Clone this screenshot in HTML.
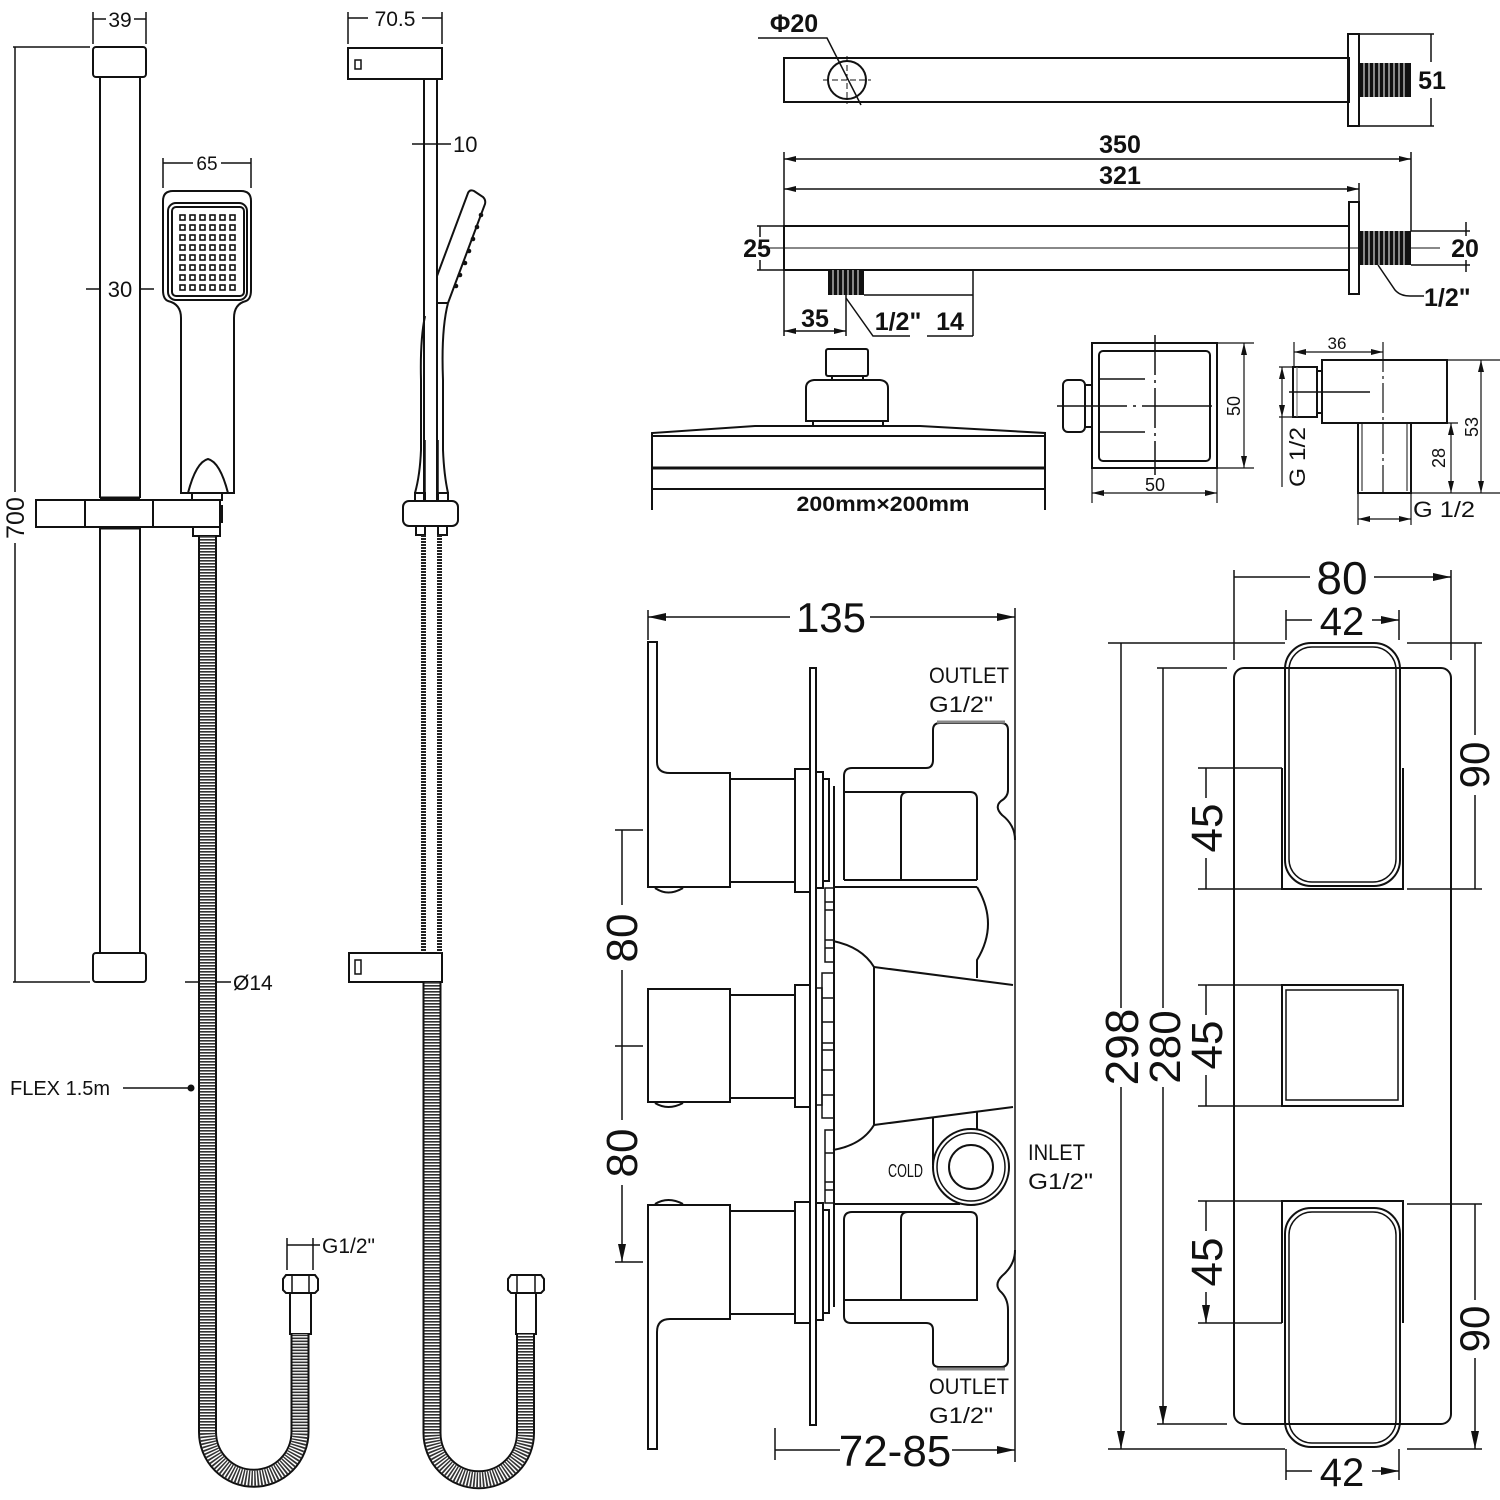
<!DOCTYPE html>
<html><head><meta charset="utf-8"><style>html,body{margin:0;padding:0;background:#fff}svg{display:block}</style></head><body>
<svg width="1500" height="1500" viewBox="0 0 1500 1500" xmlns="http://www.w3.org/2000/svg" font-family="'Liberation Sans', Arial, sans-serif">
<defs>
<marker id="ar" viewBox="0 0 18 8" refX="18" refY="4" markerWidth="18" markerHeight="8" orient="auto-start-reverse" markerUnits="userSpaceOnUse"><path d="M0,0L18,4L0,8z" fill="#111"/></marker>
<marker id="sm" viewBox="0 0 12 6" refX="12" refY="3" markerWidth="12" markerHeight="6" orient="auto-start-reverse" markerUnits="userSpaceOnUse"><path d="M0,0L12,3L0,6z" fill="#111"/></marker>
<marker id="tk" viewBox="0 0 2 10" refX="1" refY="5" markerWidth="2" markerHeight="10" orient="auto" markerUnits="userSpaceOnUse"><path d="M1,0V10" stroke="#111" stroke-width="1.5"/></marker>
</defs>
<rect width="1500" height="1500" fill="#fff"/>

<!-- ================= LEFT FRONT VIEW ================= -->
<g fill="none" stroke="#111" stroke-width="2">
  <path d="M93,12V44M146,12V44" stroke-width="1.5"/>
  <path d="M93,19H106M134,19H146" stroke-width="1.5"/>
  <rect x="93" y="47" width="53" height="30" rx="3"/>
  <path d="M100,77V498M140,77V498M100,528V953M140,528V953"/>
  <path d="M13,47H90M15,47V492M15,543V982M13,982H90" stroke-width="1.5"/>
  <path d="M86,289H99M140,289H154" stroke-width="1.5"/>
  <rect x="93" y="953" width="53" height="29" rx="3"/>
  <rect x="36" y="500" width="184" height="27"/>
  <path d="M85,500V527M153,500V527"/>
  <path d="M100,498H140M100,528H140" stroke-width="3"/>
  <!-- handset -->
  <path d="M181,493V318Q181,304 168,301Q163,299 163,290V201Q163,191 173,191H241Q251,191 251,201V290Q251,299 246,301Q234,304 234,318V493Z"/>
  <rect x="168" y="203" width="79" height="97" rx="8"/>
  <rect x="172" y="207" width="72" height="89" rx="4"/>
  <path d="M188,493Q196,462 208,459Q220,462 228,493"/>
  <rect x="192" y="493" width="30" height="7"/>
  <rect x="193" y="527" width="27" height="9"/>
  <!-- fitting + nut left hose -->
  <rect x="290" y="1293" width="21" height="41"/>
  <path d="M286,1275H315L318,1279V1290L315,1293H286L283,1290V1279Z"/>
  <path d="M292,1275V1293M309,1275V1293" stroke-width="1.5"/>
  <path d="M287,1238V1270M313,1238V1270" stroke-width="1.5"/>
  <path d="M287,1245H320" stroke-width="1.5"/>
  <path d="M185,982H198M217,982H231" stroke-width="1.5"/>
  <path d="M123,1088H190" stroke-width="1.5"/>
</g>
<rect x="219" y="505" width="4" height="18" fill="#111"/>
<g fill="none" stroke="#111" stroke-width="1.6">
  <g id="grid">
  <rect x="180" y="215" width="5" height="5"/><rect x="190" y="215" width="5" height="5"/><rect x="200" y="215" width="5" height="5"/><rect x="210" y="215" width="5" height="5"/><rect x="220" y="215" width="5" height="5"/><rect x="230" y="215" width="5" height="5"/>
  </g>
  <use href="#grid" y="10"/><use href="#grid" y="20"/><use href="#grid" y="30"/><use href="#grid" y="40"/><use href="#grid" y="50"/><use href="#grid" y="60"/><use href="#grid" y="70"/>
</g>
<circle cx="191" cy="1088" r="3.5" fill="#111"/>
<!-- left hose -->
<path d="M207.5,536V1432A46.25,46.25 0 0 0 300,1432V1334" fill="none" stroke="#111" stroke-width="19"/>
<path d="M207.5,536V1432A46.25,46.25 0 0 0 300,1432V1334" fill="none" stroke="#fff" stroke-width="15"/>
<path d="M207.5,536V1432A46.25,46.25 0 0 0 300,1432V1334" fill="none" stroke="#333" stroke-width="15" stroke-dasharray="1.6 1.4"/>

<g fill="#111" font-size="21" text-anchor="middle">
  <text x="120" y="27">39</text>
  <text x="120" y="297" font-size="22">30</text>
  <text transform="translate(24,518) rotate(-90)" font-size="25">700</text>
  <text x="207" y="170" font-size="19">65</text>
  <text x="395" y="26">70.5</text>
  <text x="453" y="152" text-anchor="start" font-size="22">10</text>
  <text x="233" y="990" text-anchor="start">Ø14</text>
  <text x="10" y="1095" text-anchor="start" font-size="20">FLEX 1.5m</text>
  <text x="322" y="1253" text-anchor="start">G1/2"</text>
</g>
<g fill="none" stroke="#111" stroke-width="1.5">
  <path d="M163,158V188M251,158V188M163,163H193M221,163H251"/>
</g>

<!-- ================= RIGHT SIDE VIEW (rail) ================= -->
<g fill="none" stroke="#111" stroke-width="2">
  <path d="M348,12V44M442,12V44" stroke-width="1.5"/>
  <path d="M348,18H368M422,18H442" stroke-width="1.5"/>
  <rect x="348" y="48" width="94" height="31"/>
  <rect x="355" y="60" width="6" height="9" stroke-width="1.5"/>
  <path d="M424,79V501M437,79V501"/>
  <path d="M412,144H451" stroke-width="1.5"/>
  <path d="M437,276L468,193Q470,189 474,191L483,197Q486,200 485,204L448,303"/>
  <path d="M437,303H448"/>
  <path d="M448,303Q441,330 443,380V450Q444,475 448,493"/>
  <path d="M425,316Q420,340 421,380V450Q420,475 415,493"/>
  <path d="M425,440V493M438,440V493" stroke-width="1.5"/>
  <rect x="415" y="493" width="10" height="8"/>
  <rect x="438" y="493" width="10" height="8"/>
  <rect x="403" y="501" width="55" height="25" rx="6"/>
  <rect x="416" y="526" width="9" height="9"/>
  <rect x="438" y="526" width="9" height="9"/>
  <rect x="349" y="953" width="93" height="29"/>
  <rect x="355" y="960" width="6" height="14" stroke-width="1.5"/>
  <rect x="516" y="1293" width="20" height="41"/>
  <path d="M511,1275H541L544,1279V1290L541,1293H511L508,1290V1279Z"/>
  <path d="M517,1275V1293M535,1275V1293" stroke-width="1.5"/>
</g>
<g fill="#111">
  <circle cx="481" cy="215" r="2.3"/><circle cx="477" cy="227" r="2.3"/><circle cx="473" cy="239" r="2.3"/><circle cx="469" cy="251" r="2.3"/><circle cx="465" cy="263" r="2.3"/><circle cx="460" cy="275" r="2.3"/><circle cx="456" cy="286" r="2.3"/>
</g>
<path d="M423.5,535V953M439.5,535V953" stroke="#222" stroke-width="5" stroke-dasharray="2 1" fill="none"/>
<path d="M432,982V1433A46.75,46.75 0 0 0 525.5,1433V1334" fill="none" stroke="#111" stroke-width="19"/>
<path d="M432,982V1433A46.75,46.75 0 0 0 525.5,1433V1334" fill="none" stroke="#fff" stroke-width="15"/>
<path d="M432,982V1433A46.75,46.75 0 0 0 525.5,1433V1334" fill="none" stroke="#333" stroke-width="15" stroke-dasharray="1.6 1.4"/>

<!-- ================= TOP RIGHT ARM ================= -->
<g fill="none" stroke="#111" stroke-width="2">
  <rect x="784" y="58" width="565" height="44"/>
  <circle cx="847" cy="80" r="19"/>
  <path d="M823,80H871M847,56V104" stroke-width="1" stroke-dasharray="6 3"/>
  <path d="M758,38H827L861,105" stroke-width="1.5"/>
  <rect x="1348" y="34" width="11" height="92"/>
  <path d="M1359,34H1434M1359,126H1434" stroke-width="1.5"/>
  <path d="M1431,62V34M1431,98V126" stroke-width="1.5"/>
  <path d="M784,159H1411" stroke-width="1.5" marker-start="url(#sm)" marker-end="url(#sm)"/>
  <path d="M784,189H1359" stroke-width="1.5" marker-start="url(#sm)" marker-end="url(#sm)"/>
  <path d="M784,152V226M784,270V336M1411,152V231M1359,183V202" stroke-width="1.5"/>
  <rect x="784" y="226" width="565" height="44"/>
  <path d="M758,248H1440" stroke-width="1"/>
  <rect x="1349" y="202" width="10" height="92"/>
  <path d="M757,226H784M757,270H784M760,226V237M760,260V270" stroke-width="1.5"/>
  <path d="M1411,231H1470M1411,265H1470M1466,222V236M1466,260V272" stroke-width="1.5"/>
  <path d="M1378,265L1395,290Q1400,296 1410,296H1424" stroke-width="1.5"/>
  <path d="M864,295H973M973,270V336" stroke-width="1.5"/>
  <path d="M784,331H846" stroke-width="1.5" marker-start="url(#sm)" marker-end="url(#sm)"/>
  <path d="M846,295V336" stroke-width="1.5"/>
  <path d="M846,298L873,336H910M927,336H973" stroke-width="1.5"/>
</g>
<rect x="1359" y="63" width="52" height="34" fill="#111"/>
<rect x="1359" y="231" width="52" height="34" fill="#111"/>
<rect x="828" y="270" width="36" height="25" fill="#111"/>
<g stroke="#fff" stroke-width="1">
  <path d="M1364,63V97M1369,63V97M1374,63V97M1379,63V97M1384,63V97M1389,63V97M1394,63V97M1399,63V97M1404,63V97"/>
  <path d="M1364,231V265M1369,231V265M1374,231V265M1379,231V265M1384,231V265M1389,231V265M1394,231V265M1399,231V265M1404,231V265"/>
  <path d="M833,270V295M838,270V295M843,270V295M848,270V295M853,270V295M858,270V295"/>
</g>
<g fill="#111" font-size="25" font-weight="bold" text-anchor="middle">
  <text x="794" y="32">Φ20</text>
  <text x="1432" y="89">51</text>
  <text x="1120" y="153">350</text>
  <text x="1120" y="184">321</text>
  <text x="757" y="257">25</text>
  <text x="1465" y="257">20</text>
  <text x="1424" y="306" text-anchor="start">1/2"</text>
  <text x="815" y="327">35</text>
  <text x="898" y="330">1/2"</text>
  <text x="950" y="330">14</text>
</g>

<!-- ================= SHOWER HEAD ================= -->
<g fill="none" stroke="#111" stroke-width="2">
  <rect x="826" y="349" width="42" height="27" rx="2"/>
  <path d="M832,376V380M863,376V380"/>
  <path d="M806,421V388Q806,381 814,380H880Q888,381 888,388V421Z"/>
  <path d="M813,421V425M883,421V425"/>
  <path d="M652,510V433L755,426H920L1045,433V510"/>
  <path d="M652,436H1045M652,489H1045"/>
  <path d="M652,468H1045" stroke-width="3"/>
</g>
<text x="883" y="511" font-size="21" font-weight="bold" text-anchor="middle" textLength="173" lengthAdjust="spacingAndGlyphs" fill="#111">200mm×200mm</text>

<!-- ================= ELBOW FRONT ================= -->
<g fill="none" stroke="#111" stroke-width="2">
  <rect x="1092" y="343" width="125" height="125"/>
  <rect x="1099" y="351" width="111" height="110" rx="4"/>
  <path d="M1155,335V475" stroke-width="1.5" stroke-dasharray="40 5 3 5"/>
  <path d="M1057,406H1217" stroke-width="1.5" stroke-dasharray="70 6 3 6"/>
  <path d="M1099,379H1145M1099,432H1145" stroke-width="1.5"/>
  <rect x="1063" y="380" width="22" height="52" rx="5"/>
  <rect x="1085" y="385" width="7" height="42"/>
  <path d="M1217,343H1254M1217,468H1254M1092,468V503M1217,468V503" stroke-width="1.2"/>
  <path d="M1244,343V468" stroke-width="1.2" marker-start="url(#sm)" marker-end="url(#sm)"/>
  <path d="M1092,493H1217" stroke-width="1.2" marker-start="url(#sm)" marker-end="url(#sm)"/>
</g>
<!-- ================= ELBOW SIDE ================= -->
<g fill="none" stroke="#111" stroke-width="2">
  <rect x="1322" y="360" width="125" height="63"/>
  <rect x="1293" y="367" width="24" height="50"/>
  <rect x="1317" y="371" width="5" height="42"/>
  <path d="M1297,367V417" stroke-width="1" stroke="#666"/>
  <path d="M1289,392H1370" stroke-width="1.5"/>
  <rect x="1358" y="423" width="53" height="70"/>
  <path d="M1362,423V491M1407,423V491" stroke-width="1"/>
  <path d="M1383,342V493" stroke-width="1.2" stroke-dasharray="30 4 3 4"/>
  <path d="M1294,342V367" stroke-width="1.2"/>
  <path d="M1294,352H1383" stroke-width="1.2" marker-start="url(#sm)" marker-end="url(#sm)"/>
  <path d="M1279,367H1293M1279,417H1293" stroke-width="1.2"/>
  <path d="M1282,367V417" stroke-width="1.2" marker-start="url(#sm)" marker-end="url(#sm)"/>
  <path d="M1282,417V487" stroke-width="1.2"/>
  <path d="M1447,360H1500M1411,493H1500M1411,423H1458" stroke-width="1.2"/>
  <path d="M1481,360V493" stroke-width="1.2" marker-start="url(#sm)" marker-end="url(#sm)"/>
  <path d="M1451,423V493" stroke-width="1.2" marker-start="url(#sm)" marker-end="url(#sm)"/>
  <path d="M1358,493V525M1411,493V525" stroke-width="1.2"/>
  <path d="M1358,519H1411" stroke-width="1.2" marker-start="url(#sm)" marker-end="url(#sm)"/>
</g>
<g fill="#111" font-size="18" text-anchor="middle">
  <text transform="translate(1240,406) rotate(-90)">50</text>
  <text x="1155" y="491">50</text>
  <text x="1337" y="349" font-size="17">36</text>
  <text transform="translate(1305,457) rotate(-90)" font-size="22" textLength="60" lengthAdjust="spacingAndGlyphs">G 1/2</text>
  <text transform="translate(1478,427) rotate(-90)">53</text>
  <text transform="translate(1445,458) rotate(-90)">28</text>
  <text x="1413" y="517" text-anchor="start" font-size="22" textLength="62" lengthAdjust="spacingAndGlyphs">G 1/2</text>
</g>

<!-- ================= VALVE SIDE VIEW ================= -->
<g fill="none" stroke="#111" stroke-width="2">
  <path d="M790,617H648" stroke-width="1.5" marker-end="url(#ar)"/>
  <path d="M870,617H1015" stroke-width="1.5" marker-end="url(#ar)"/>
  <path d="M648,610V640M1015,608V1462" stroke-width="1.5"/>
  <!-- handle 1 -->
  <path d="M648,642H657V762Q657,773 670,773H730V887H648Z"/>
  <path d="M655,888Q668,897 683,888"/>
  <rect x="730" y="779" width="65" height="103"/>
  <rect x="795" y="769" width="15" height="123"/>
  <rect x="810" y="668" width="6" height="757"/>
  <rect x="816" y="772" width="7" height="116"/>
  <rect x="823" y="779" width="6" height="102"/>
  <path d="M834,786V1307"/>
  <!-- upper housing / outlet -->
  <path d="M844,880V776Q844,768 852,768H926Q933,768 933,760V730Q933,723 940,723H1001Q1008,723 1008,730V790Q1008,797 1001,801Q994,807 1002,815Q1015,825 1015,840"/>
  <path d="M844,792H970Q977,792 977,799V880"/>
  <path d="M901,880V799Q901,792 908,792"/>
  <path d="M844,880H977"/>
  <path d="M834,887H977"/>
  <path d="M977,887Q999,924 977,960V978"/>
  <path d="M833,941Q862,947 874,967V1125Q862,1145 833,1150"/>
  <path d="M874,967L1013,985M874,1125L1013,1107"/>
  <path d="M933,1118V1165M977,1112V1130"/>
  <circle cx="971" cy="1167" r="38"/>
  <circle cx="971" cy="1167" r="34" stroke-width="1.5"/>
  <circle cx="971" cy="1167" r="22"/>
  <path d="M834,1204H960"/>
  <!-- lower housing / outlet -->
  <path d="M844,1300V1220Q844,1212 852,1212H970Q977,1212 977,1219V1300H844"/>
  <path d="M901,1300V1219Q901,1212 908,1212"/>
  <path d="M844,1300V1316Q844,1323 851,1323H926Q933,1323 933,1330V1362Q933,1367 940,1367H1001Q1008,1367 1008,1360V1310Q1008,1298 1000,1291Q994,1284 1002,1276Q1015,1265 1015,1250"/>
  <!-- knurl column -->
  <rect x="825" y="888" width="9" height="74" stroke-width="1.5"/>
  <path d="M825,902H834M825,910H834M825,940H834M825,948H834" stroke-width="1.5"/>
  <rect x="822" y="973" width="12" height="145" stroke-width="1.5"/>
  <path d="M822,998H834M822,1022H834M822,1043H834M822,1050H834M822,1070H834M822,1095H834" stroke-width="1.5"/>
  <rect x="825" y="1130" width="9" height="73" stroke-width="1.5"/>
  <path d="M825,1153H834M825,1182H834M825,1190H834" stroke-width="1.5"/>
  <!-- handle 2 -->
  <rect x="648" y="989" width="82" height="113"/>
  <path d="M655,1103Q668,1111 683,1103"/>
  <rect x="730" y="995" width="65" height="103"/>
  <rect x="795" y="985" width="15" height="122"/>
  <rect x="816" y="988" width="6" height="117" stroke-width="1.5"/>
  <!-- handle 3 -->
  <path d="M648,1205H730V1319H670Q657,1319 657,1332V1449H648Z"/>
  <path d="M655,1204Q668,1196 683,1204"/>
  <rect x="730" y="1211" width="65" height="103"/>
  <rect x="795" y="1202" width="15" height="121"/>
  <rect x="816" y="1203" width="7" height="117"/>
  <rect x="823" y="1210" width="6" height="103"/>
  <!-- 80 dims -->
  <path d="M615,830H643M615,1046H643M615,1262H643" stroke-width="1.5"/>
  <path d="M622,905V830M622,970V1046M622,1120V1046M622,1185V1262" stroke-width="1.5" marker-end="url(#ar)"/>
  <!-- 72-85 -->
  <path d="M775,1428V1460" stroke-width="1.5"/>
  <path d="M840,1450H775M952,1450H1015" stroke-width="1.5" marker-end="url(#ar)"/>
</g>
<path d="M937,722H1005M937,1369H1005" stroke="#888" stroke-width="3"/>
<g fill="#111" text-anchor="middle">
  <text x="831" y="632" font-size="42">135</text>
  <text transform="translate(637,938) rotate(-90)" font-size="44">80</text>
  <text transform="translate(637,1153) rotate(-90)" font-size="44">80</text>
  <text x="895" y="1466" font-size="44">72-85</text>
</g>
<g fill="#111" font-size="22" text-anchor="start" lengthAdjust="spacingAndGlyphs">
  <text x="929" y="683" textLength="80" lengthAdjust="spacingAndGlyphs">OUTLET</text>
  <text x="929" y="712" textLength="64" lengthAdjust="spacingAndGlyphs">G1/2"</text>
  <text x="929" y="1394" textLength="80" lengthAdjust="spacingAndGlyphs">OUTLET</text>
  <text x="929" y="1423" textLength="64" lengthAdjust="spacingAndGlyphs">G1/2"</text>
  <text x="1028" y="1160" textLength="57" lengthAdjust="spacingAndGlyphs">INLET</text>
  <text x="1028" y="1189" textLength="65" lengthAdjust="spacingAndGlyphs">G1/2"</text>
  <text x="888" y="1177" font-size="18" textLength="35" lengthAdjust="spacingAndGlyphs">COLD</text>
</g>

<!-- ================= FRONT PLATE ================= -->
<g fill="none" stroke="#111" stroke-width="2">
  <rect x="1234" y="668" width="217" height="756" rx="10"/>
  <rect x="1285" y="643" width="115" height="243" rx="26"/>
  <rect x="1289" y="647" width="107" height="235" rx="23" stroke-width="1.5"/>
  <path d="M1282,768V889H1403V768"/>
  <rect x="1282" y="985" width="121" height="121"/>
  <rect x="1286" y="990" width="112" height="110" stroke-width="1.5"/>
  <path d="M1282,1323V1201H1403V1323"/>
  <rect x="1285" y="1208" width="115" height="239" rx="26"/>
  <rect x="1289" y="1212" width="107" height="231" rx="23" stroke-width="1.5"/>
</g>
<g fill="none" stroke="#111" stroke-width="1.5">
  <path d="M1234,570V660M1451,570V660"/>
  <path d="M1310,577H1234M1374,577H1451" marker-end="url(#ar)"/>
  <path d="M1286,610V640M1399,610V640"/>
  <path d="M1312,620H1286M1372,620H1399" marker-end="url(#ar)"/>
  <path d="M1108,643H1285M1108,1449H1285"/>
  <path d="M1121,1008V643M1121,1087V1449" marker-end="url(#ar)"/>
  <path d="M1157,668H1227M1157,1424H1227"/>
  <path d="M1163,1008V668M1163,1087V1424" marker-end="url(#ar)"/>
  <path d="M1198,768H1282M1198,889H1282M1198,985H1282M1198,1106H1282M1198,1201H1282M1198,1323H1282"/>
  <path d="M1206,798V768M1206,858V889M1206,1015V985M1206,1075V1106M1206,1231V1201M1206,1292V1323" marker-end="url(#ar)"/>
  <path d="M1407,643H1482M1407,889H1482M1407,1204H1482M1407,1449H1482"/>
  <path d="M1475,735V643M1475,795V889M1475,1300V1204M1475,1358V1449" marker-end="url(#ar)"/>
  <path d="M1286,1449V1480M1399,1449V1480"/>
  <path d="M1312,1471H1286M1372,1471H1399" marker-end="url(#ar)"/>
</g>
<g fill="#111" text-anchor="middle">
  <text x="1342" y="594" font-size="46">80</text>
  <text x="1342" y="635" font-size="40">42</text>
  <text x="1342" y="1486" font-size="40">42</text>
  <text transform="translate(1138,1047) rotate(-90)" font-size="46">298</text>
  <text transform="translate(1180,1047) rotate(-90)" font-size="44">280</text>
  <text transform="translate(1222,828) rotate(-90)" font-size="44">45</text>
  <text transform="translate(1222,1045) rotate(-90)" font-size="44">45</text>
  <text transform="translate(1222,1262) rotate(-90)" font-size="44">45</text>
  <text transform="translate(1489,765) rotate(-90)" font-size="42">90</text>
  <text transform="translate(1489,1329) rotate(-90)" font-size="42">90</text>
</g>
</svg>
</body></html>
